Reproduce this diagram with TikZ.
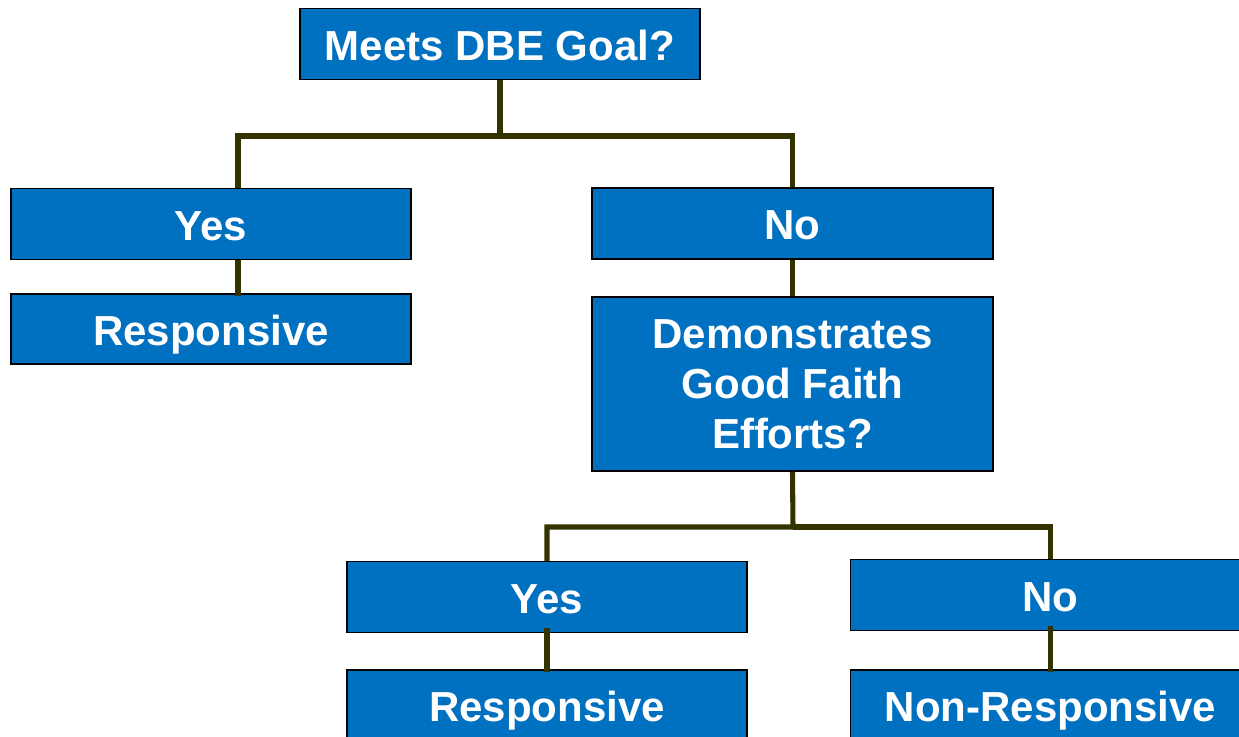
\documentclass[tikz,border=0pt]{standalone}
\usepackage{fontspec}
\setmainfont{Liberation Sans}
\definecolor{boxblue}{HTML}{0070C0}
\definecolor{connc}{HTML}{333300}
\begin{document}
\begin{tikzpicture}[x=0.75pt,y=-0.75pt,
  box/.style={draw=black, line width=1.1pt, fill=boxblue, text=white,
    font=\bfseries\fontsize{31.5pt}{37.5pt}\selectfont, align=center,
    minimum width=300pt, minimum height=53.25pt, inner sep=0pt},
  oneline/.style={box, text height=24.6pt, text depth=0pt},
  conn/.style={draw=connc, line width=3.8pt}]
\useasboundingbox (0,0) rectangle (1239,737);
\clip (0,0) rectangle (1239,737);
\node[oneline] (top) at (500,44) {Meets DBE Goal?};
\node[oneline] (yes1) at (211,224) {Yes};
\node[oneline, minimum height=52.5pt] (resp1) at (211,329) {Responsive};
\node[oneline, minimum width=300.75pt] (no1) at (792.5,223.5) {No};
\node[box, minimum width=300.75pt, minimum height=130.5pt] (demo) at (792.5,384) {Demonstrates\\Good Faith\\Efforts?};
\node[oneline] (yes2) at (547,597) {Yes};
\node[oneline] (no2) at (1050.5,595) {No};
\node[oneline] (resp2) at (547,705.5) {Responsive};
\node[oneline] (nonresp) at (1050.5,705.5) {Non-Responsive};
\coordinate (j1) at (500,136);
\coordinate (j2) at (793,527);
\draw[conn] (top.south) -- (j1) -| ([xshift=20.25pt]yes1.north);
\draw[conn] (j1) -| (no1.north);
\draw[conn] ([xshift=20.25pt]yes1.south) -- ([xshift=20.25pt,yshift=-2pt]resp1.north);
\draw[conn] (no1.south) -- (demo.north);
\draw[conn] (demo.south) -- (j2) -| (yes2.north);
\draw[conn] (j2) -| (no2.north);
\draw[conn] ([yshift=4pt]yes2.south) -- ([yshift=-2pt]resp2.north);
\draw[conn] ([yshift=4pt]no2.south) -- ([yshift=-2pt]nonresp.north);
\end{tikzpicture}
\end{document}
